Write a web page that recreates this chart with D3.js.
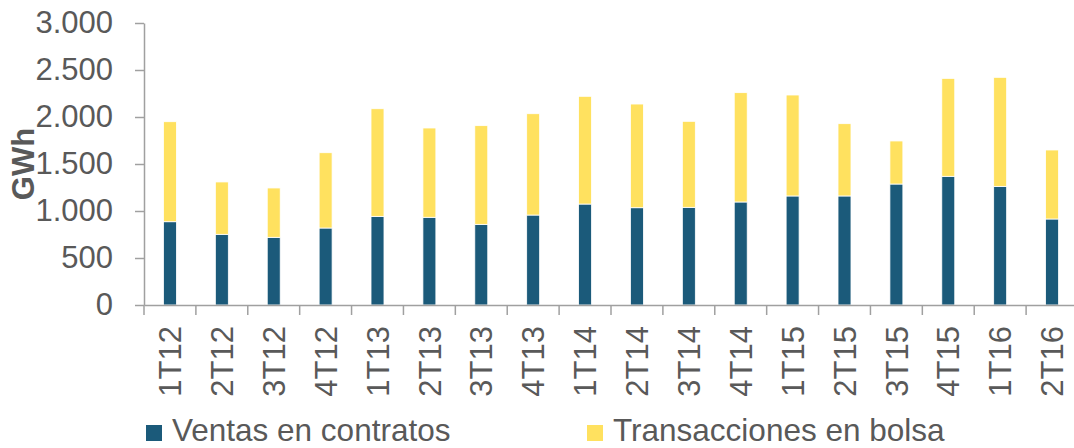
<!DOCTYPE html>
<html>
<head>
<meta charset="utf-8">
<script src="https://cdn.jsdelivr.net/npm/d3@7"></script>
<style>
  body { margin: 0; background: #fff; }
  svg { display: block; font-family: "Liberation Sans", Arial, sans-serif; }
  .axis text { fill: #595959; font-size: 31px; }
  .axis path, .axis line { stroke: #a0a0a0; stroke-width: 1.5; }
</style>
</head>
<body>
<div id="chart"></div>
<script>
// quarters and GWh per series
const quarters = ["1T12","2T12","3T12","4T12","1T13","2T13","3T13","4T13","1T14","2T14","3T14","4T14","1T15","2T15","3T15","4T15","1T16","2T16"];
const contratos = [886, 752, 720, 819, 943, 933, 858, 957, 1074, 1035, 1039, 1096, 1160, 1160, 1287, 1369, 1262, 915];
const totales = [1950, 1309, 1245, 1620, 2088, 1883, 1908, 2035, 2220, 2138, 1954, 2259, 2234, 1929, 1745, 2411, 2422, 1649];
const yTicks = [0, 500, 1000, 1500, 2000, 2500, 3000];
const seriesNames = ["Ventas en contratos", "Transacciones en bolsa"];
const colors = ["#1b5a7a", "#ffe15f"];

const width = 1074, height = 448;
const plotLeft = 144, plotRight = 1078, plotTop = 23, plotBottom = 305;

const svg = d3.select("#chart").append("svg")
    .attr("width", width)
    .attr("height", height);

const rows = quarters.map((q, i) => ({q: q, contratos: contratos[i], bolsa: totales[i] - contratos[i]}));
const stacked = d3.stack().keys(["contratos", "bolsa"])(rows);

let x = d3.scaleBand()
    .domain(quarters)
    .range([plotLeft, plotRight])
    .paddingInner(0.75)
    .paddingOuter(0.375);

let y = d3.scaleLinear()
    .domain([0, 3000])
    .range([plotBottom, plotTop]);

// bars
svg.selectAll(".serie")
    .data(stacked)
    .enter()
    .append("g")
    .attr("class", "serie")
    .attr("fill", (d, i) => colors[i])
    .selectAll("rect")
    .data(d => d)
    .enter()
    .append("rect")
    .attr("x", d => x(d.data.q))
    .attr("width", x.bandwidth())
    .attr("y", d => y(d[1]))
    .attr("height", d => y(d[0]) - y(d[1]))
    .attr("stroke", "#fff")
    .attr("stroke-width", 0.8);

// y axis
const fmt = v => d3.format(",")(v).replace(/,/g, ".");
svg.append("g")
    .attr("class", "axis")
    .attr("transform", "translate(" + plotLeft + ",0)")
    .call(d3.axisLeft(y).tickValues(yTicks).tickFormat(fmt).tickSize(9).tickSizeOuter(0).tickPadding(22));

// x axis, labels only
let xAxis = svg.append("g")
    .attr("class", "axis")
    .attr("transform", "translate(0," + plotBottom + ")")
    .call(d3.axisBottom(x).tickSize(0).tickSizeOuter(0));

xAxis.selectAll("text")
    .attr("transform", "rotate(-90)")
    .attr("x", -21)
    .attr("y", 0)
    .attr("dy", "0.36em")
    .style("text-anchor", "end");

// tick marks between categories
const bounds = quarters.map(q => x(q) + x.bandwidth() / 2 - x.step() / 2).concat([plotRight]);
svg.append("g")
    .attr("class", "axis")
    .selectAll("line")
    .data(bounds)
    .enter()
    .append("line")
    .attr("x1", d => d)
    .attr("x2", d => d)
    .attr("y1", plotBottom)
    .attr("y2", plotBottom + 10);

// y label
svg.append("text")
    .attr("transform", "translate(34,164) rotate(-90)")
    .attr("text-anchor", "middle")
    .style("font-size", "31px")
    .style("font-weight", "bold")
    .style("fill", "#595959")
    .text("GWh");

// legend
const legendX = [146, 587];
const legend = svg.selectAll(".legend")
    .data(seriesNames)
    .enter()
    .append("g")
    .attr("class", "legend")
    .attr("transform", (d, i) => "translate(" + legendX[i] + ",0)");

legend.append("rect")
    .attr("x", 0)
    .attr("y", 425)
    .attr("width", 16)
    .attr("height", 16)
    .attr("fill", (d, i) => colors[i]);

legend.append("text")
    .attr("x", 26)
    .attr("y", 441)
    .style("font-size", "31.5px")
    .style("fill", "#595959")
    .text(d => d);
</script>
</body>
</html>
